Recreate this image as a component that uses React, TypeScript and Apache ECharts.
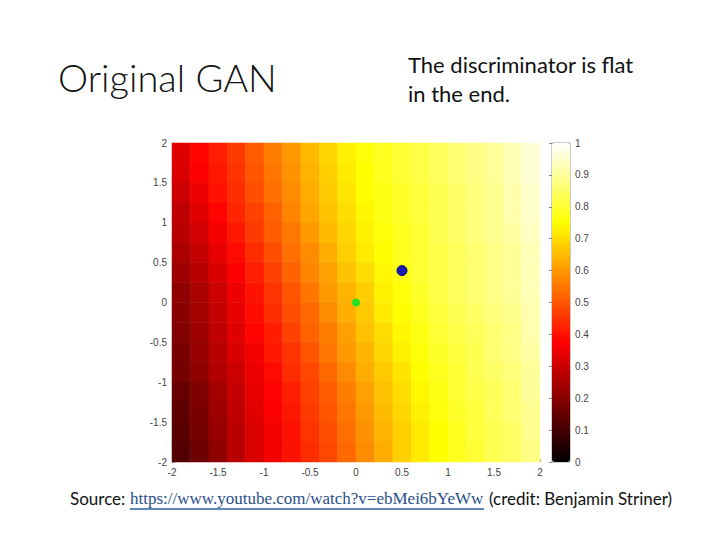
import React, { useEffect, useRef } from "react";
import * as echarts from "echarts";

// Heatmap cell centres (x columns, y rows listed top to bottom)
const xCenters = [-1.9, -1.7, -1.5, -1.3, -1.1, -0.9, -0.7, -0.5, -0.3, -0.1, 0.1, 0.3, 0.5, 0.7, 0.9, 1.1, 1.3, 1.5, 1.7, 1.9];
const yCenters = [1.875, 1.625, 1.375, 1.125, 0.875, 0.625, 0.375, 0.125, -0.125, -0.375, -0.625, -0.875, -1.125, -1.375, -1.625, -1.875];

// Discriminator output (rows top -> bottom)
const discValues = [
  [0.33, 0.38, 0.42, 0.46, 0.51, 0.56, 0.60, 0.65, 0.69, 0.73, 0.76, 0.78, 0.80, 0.82, 0.84, 0.86, 0.88, 0.90, 0.93, 0.96],
  [0.32, 0.37, 0.41, 0.45, 0.50, 0.55, 0.59, 0.64, 0.68, 0.72, 0.75, 0.78, 0.80, 0.82, 0.84, 0.86, 0.88, 0.90, 0.93, 0.96],
  [0.30, 0.35, 0.40, 0.44, 0.49, 0.54, 0.58, 0.63, 0.67, 0.71, 0.75, 0.77, 0.79, 0.81, 0.83, 0.85, 0.87, 0.89, 0.92, 0.95],
  [0.28, 0.33, 0.38, 0.43, 0.47, 0.52, 0.57, 0.62, 0.66, 0.70, 0.74, 0.77, 0.79, 0.81, 0.83, 0.85, 0.87, 0.89, 0.92, 0.95],
  [0.27, 0.31, 0.36, 0.41, 0.46, 0.51, 0.55, 0.60, 0.65, 0.69, 0.73, 0.76, 0.78, 0.80, 0.83, 0.85, 0.87, 0.89, 0.91, 0.94],
  [0.25, 0.29, 0.34, 0.39, 0.44, 0.49, 0.54, 0.58, 0.63, 0.68, 0.72, 0.75, 0.78, 0.80, 0.82, 0.84, 0.86, 0.88, 0.90, 0.93],
  [0.23, 0.27, 0.32, 0.37, 0.42, 0.47, 0.52, 0.57, 0.61, 0.66, 0.70, 0.74, 0.77, 0.80, 0.82, 0.84, 0.86, 0.88, 0.90, 0.93],
  [0.21, 0.25, 0.30, 0.35, 0.40, 0.45, 0.50, 0.55, 0.60, 0.64, 0.68, 0.73, 0.76, 0.79, 0.82, 0.84, 0.86, 0.88, 0.90, 0.93],
  [0.20, 0.24, 0.29, 0.34, 0.39, 0.44, 0.49, 0.53, 0.58, 0.63, 0.67, 0.72, 0.75, 0.78, 0.81, 0.83, 0.85, 0.87, 0.89, 0.92],
  [0.19, 0.23, 0.28, 0.33, 0.38, 0.42, 0.47, 0.52, 0.56, 0.61, 0.66, 0.70, 0.74, 0.77, 0.80, 0.82, 0.84, 0.86, 0.88, 0.92],
  [0.18, 0.22, 0.27, 0.32, 0.36, 0.41, 0.45, 0.50, 0.55, 0.60, 0.64, 0.69, 0.73, 0.76, 0.79, 0.81, 0.83, 0.86, 0.88, 0.91],
  [0.17, 0.21, 0.26, 0.30, 0.35, 0.39, 0.44, 0.48, 0.53, 0.58, 0.63, 0.67, 0.71, 0.75, 0.78, 0.80, 0.83, 0.85, 0.87, 0.90],
  [0.15, 0.19, 0.24, 0.29, 0.34, 0.38, 0.42, 0.47, 0.51, 0.56, 0.61, 0.66, 0.70, 0.74, 0.77, 0.80, 0.82, 0.84, 0.86, 0.90],
  [0.14, 0.18, 0.23, 0.28, 0.33, 0.37, 0.41, 0.46, 0.50, 0.55, 0.60, 0.65, 0.69, 0.73, 0.76, 0.79, 0.81, 0.84, 0.86, 0.89],
  [0.13, 0.17, 0.22, 0.27, 0.32, 0.36, 0.40, 0.45, 0.49, 0.54, 0.59, 0.64, 0.68, 0.72, 0.75, 0.78, 0.81, 0.83, 0.85, 0.89],
  [0.12, 0.16, 0.21, 0.27, 0.32, 0.36, 0.40, 0.44, 0.48, 0.53, 0.58, 0.63, 0.68, 0.72, 0.75, 0.78, 0.80, 0.83, 0.85, 0.88],
];

// Points: [x, y]
const realPoint = [0.5, 0.4];
const fakePoint = [0, 0];

// MATLAB "hot" colormap stops (evenly spaced over 0..1)
const hotColors = ["#000000", "#550000", "#aa0000", "#ff0000", "#ff5500", "#ffaa00", "#ffff00", "#ffff80", "#ffffff"];

const GRID = { left: 172, top: 143, width: 368, height: 319 };
const CBAR = { left: 552, top: 143, width: 18, height: 319 };

export default function App() {
  const ref = useRef<HTMLDivElement>(null);

  useEffect(() => {
    if (!ref.current) return;
    const chart = echarts.init(ref.current, undefined, { renderer: "svg" });

    const nRows = yCenters.length;
    const heatData: number[][] = [];
    discValues.forEach((row, i) => {
      row.forEach((v, j) => {
        heatData.push([j, nRows - 1 - i, v]);
      });
    });
    const yCats = yCenters.slice().reverse().map(String);

    const labelStyle = { color: "#444", fontSize: 10, fontFamily: "Liberation Sans, Arial, sans-serif" };

    chart.setOption({
      animation: false,
      backgroundColor: "#ffffff",
      grid: [
        { ...GRID, containLabel: false },
        { ...CBAR, containLabel: false, show: true, borderColor: "#999", borderWidth: 1, backgroundColor: "transparent" },
      ],
      xAxis: [
        { type: "category", gridIndex: 0, data: xCenters.map(String), show: false },
        {
          type: "value", gridIndex: 0, min: -2, max: 2, interval: 0.5, position: "bottom",
          axisLine: { show: false },
          axisTick: { show: true, inside: true, length: 3, lineStyle: { color: "#aaa" } },
          axisLabel: { ...labelStyle, margin: 5 },
          splitLine: { show: false },
        },
        { type: "value", gridIndex: 1, min: 0, max: 1, show: false },
      ],
      yAxis: [
        { type: "category", gridIndex: 0, data: yCats, show: false },
        {
          type: "value", gridIndex: 0, min: -2, max: 2, interval: 0.5, position: "left",
          axisLine: { show: false },
          axisTick: { show: true, inside: true, length: 3, lineStyle: { color: "#aaa" } },
          axisLabel: { ...labelStyle, margin: 5 },
          splitLine: { show: false },
        },
        {
          type: "value", gridIndex: 1, min: 0, max: 1, interval: 0.1, position: "right",
          axisLine: { show: false },
          axisTick: { show: true, inside: true, length: 3, lineStyle: { color: "#888" } },
          axisLabel: { ...labelStyle, margin: 5 },
          splitLine: { show: false },
        },
      ],
      visualMap: {
        type: "continuous",
        min: 0,
        max: 1,
        seriesIndex: 0,
        dimension: 2,
        show: true,
        calculable: false,
        hoverLink: false,
        orient: "vertical",
        left: CBAR.left,
        top: CBAR.top,
        itemWidth: CBAR.width,
        itemHeight: CBAR.height,
        padding: 0,
        inRange: { color: hotColors },
      },
      series: [
        {
          type: "heatmap",
          xAxisIndex: 0,
          yAxisIndex: 0,
          data: heatData,
          itemStyle: { borderWidth: 0 },
          emphasis: { disabled: true },
          z: 1,
        },
        {
          type: "scatter",
          xAxisIndex: 1,
          yAxisIndex: 1,
          data: [realPoint],
          symbolSize: 10,
          itemStyle: { color: "#1a1ab8", borderColor: "#0a0a70", borderWidth: 1, opacity: 1 },
          emphasis: { disabled: true },
          z: 5,
        },
        {
          type: "scatter",
          xAxisIndex: 1,
          yAxisIndex: 1,
          data: [fakePoint],
          symbolSize: 8,
          itemStyle: { color: "#22e022", opacity: 1 },
          emphasis: { disabled: true },
          z: 5,
        },
      ],
      graphic: [
        {
          type: "text", left: 58, top: 58,
          style: { text: "Original GAN", fill: "#111", fontSize: 38, fontWeight: 300, fontFamily: "Lato, 'Open Sans', sans-serif" },
        },
        {
          type: "text", left: 408, top: 50,
          style: { text: "The discriminator is flat\nin the end.", fill: "#111", fontSize: 22, lineHeight: 29, fontFamily: "Lato, 'Open Sans', sans-serif" },
        },
        {
          type: "text", left: 70, top: 490,
          style: { text: "Source:", fill: "#111", fontSize: 17, fontFamily: "Lato, 'Open Sans', sans-serif" },
        },
        {
          type: "text", left: 130, top: 490,
          style: { text: "https://www.youtube.com/watch?v=ebMei6bYeWw", fill: "#2a4f8a", fontSize: 17, fontFamily: "'Liberation Serif', 'DejaVu Serif', serif" },
        },
        {
          type: "line",
          shape: { x1: 130, y1: 509, x2: 484, y2: 509 },
          style: { stroke: "#2a5fa0", lineWidth: 1.5 },
        },
        {
          type: "text", left: 489, top: 490,
          style: { text: "(credit: Benjamin Striner)", fill: "#111", fontSize: 17, fontFamily: "Lato, 'Open Sans', sans-serif" },
        },
      ],
    });

    return () => chart.dispose();
  }, []);

  return <div ref={ref} style={{ position: "fixed", left: 0, top: 0, width: 720, height: 540 }} />;
}
